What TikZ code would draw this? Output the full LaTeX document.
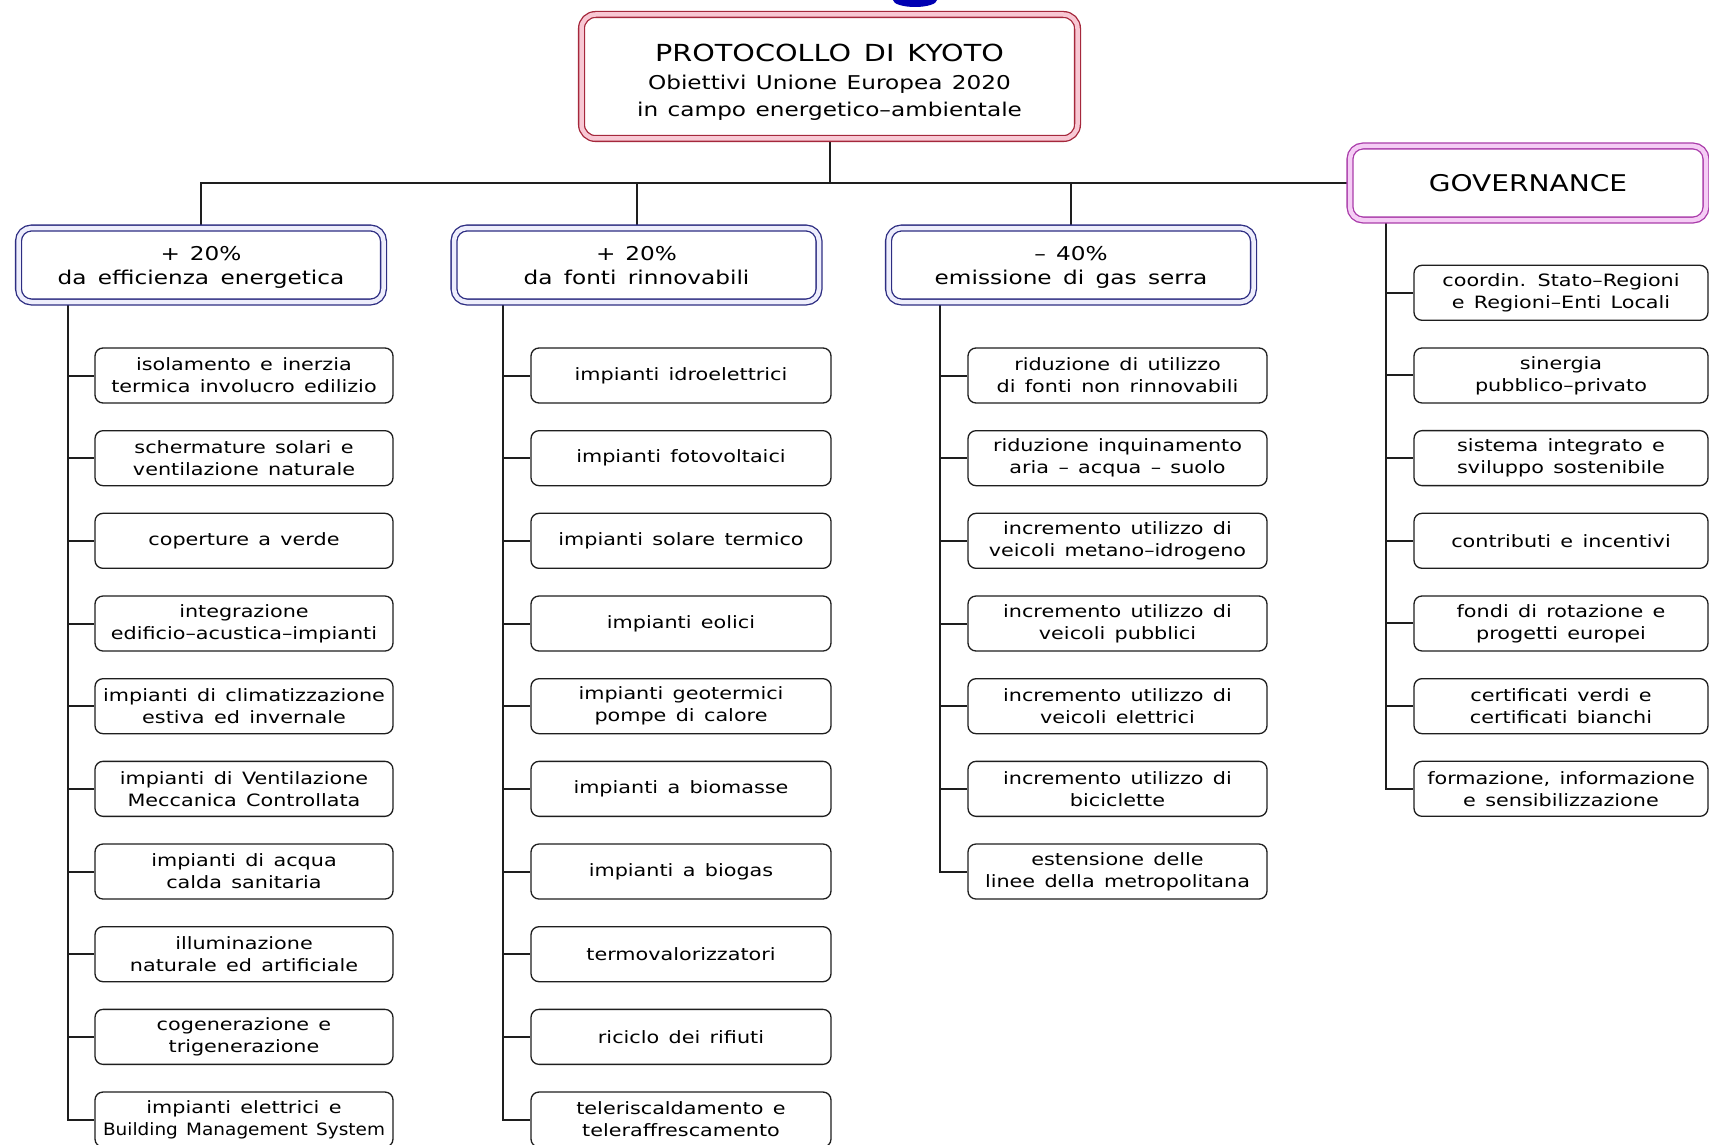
\documentclass[tikz,border=0pt]{standalone}
\usepackage{fontspec}
\setmainfont{DejaVu Sans}[FakeStretch=1.22]
\newcommand\leaffont{\fontsize{17}{22}\selectfont\spaceskip=0.55em\relax}
\newcommand\hdrfont{\fontsize{19}{24}\selectfont\spaceskip=0.6em\relax}
\newcommand\topfont{\fontsize{19}{27}\selectfont\spaceskip=0.5em\relax}
\newcommand\titlefont{\fontsize{23.5}{27}\selectfont\spaceskip=0.55em\relax}
\definecolor{topline}{RGB}{165,40,60}
\definecolor{toppink}{RGB}{248,200,212}
\definecolor{navyline}{RGB}{45,45,130}
\definecolor{lavfill}{RGB}{238,238,252}
\definecolor{purpline}{RGB}{170,60,170}
\definecolor{purpfill}{RGB}{245,205,245}
\definecolor{conncol}{RGB}{30,30,30}
\pgfdeclarelayer{bg}
\pgfsetlayers{bg,main}
\tikzset{
  leafbox/.style={draw=conncol, line width=1.3pt, rounded corners=8pt, fill=white,
    minimum height=55pt, inner sep=0pt, align=center, font=\leaffont},
  colA/.style={leafbox, minimum width=298pt},
  colB/.style={leafbox, minimum width=300pt},
  colC/.style={leafbox, minimum width=299pt},
  colD/.style={leafbox, minimum width=294pt},
  hdrbox/.style={draw=navyline, double=lavfill, double distance=4.5pt, line width=1.3pt,
    rounded corners=13pt, fill=white, minimum width=365pt, minimum height=74pt,
    inner sep=0pt, align=center, font=\hdrfont},
  govbox/.style={draw=purpline, double=purpfill, double distance=4.5pt, line width=1.3pt,
    rounded corners=13pt, fill=white, minimum width=356pt, minimum height=74pt,
    inner sep=0pt, align=center, font=\fontsize{23}{26}\selectfont},
  topbox/.style={draw=topline, double=toppink, double distance=4.5pt, line width=1.3pt,
    rounded corners=14pt, fill=white, minimum width=496pt, minimum height=124pt,
    inner sep=0pt, align=center, font=\topfont},
  conn/.style={draw=conncol, line width=2pt}
}
\begin{document}
\begin{tikzpicture}[x=1pt,y=-1pt]
\useasboundingbox (0,0) rectangle (1709,1145);
\begin{pgfonlayer}{bg}
\fill[white] (0,0) rectangle (1709,1145);
\end{pgfonlayer}
\fill[blue!70!black] (915,0) ellipse (22 and 7);

% top box
\node[topbox] (top) at (829.5,76.5) {\rule{0pt}{29pt}{\titlefont PROTOCOLLO DI KYOTO}\\[1pt]
  Obiettivi Unione Europea 2020\\
  in campo energetico–ambientale};

% header boxes
\node[hdrbox] (h1) at (201,265) {\rule{0pt}{19pt}+\hspace{10pt}20\%\\da efficienza energetica};
\node[hdrbox] (h2) at (636.5,265) {\rule{0pt}{19pt}+\hspace{10pt}20\%\\da fonti rinnovabili\vphantom{g}};
\node[hdrbox] (h3) at (1071,265) {\rule{0pt}{19pt}–\hspace{10pt}40\%\\emissione di gas serra};
\node[govbox] (gov) at (1528,183) {GOVERNANCE};

\coordinate (j0) at (830,183);
\coordinate (t1) at (68,302);
\coordinate (t2) at (503,302);
\coordinate (t3) at (940,302);
\coordinate (t4) at (1386,219);

\begin{pgfonlayer}{bg}
\draw[conn] (top.south -| j0) -- (j0);
\draw[conn] (h1.north) -- (h1.north |- j0) -- (gov.west);
\draw[conn] (h2.north |- j0) -- (h2.north);
\draw[conn] (h3.north |- j0) -- (h3.north);
\end{pgfonlayer}

% column A
\foreach \t [count=\i] in {
  {isolamento e inerzia\\termica involucro edilizio},
  {schermature solari e\\ventilazione naturale},
  {coperture a verde},
  {integrazione\\edificio–acustica–impianti},
  {impianti di climatizzazione\\estiva ed invernale},
  {impianti di Ventilazione\\Meccanica Controllata},
  {impianti di acqua\\calda sanitaria},
  {illuminazione\\naturale ed artificiale},
  {cogenerazione e\\trigenerazione},
  {impianti elettrici e\\\scalebox{0.89}[1]{Building Management System}}}{
  \node[colA] (a\i) at (244,{375.5+82.67*(\i-1)}) {\t};
  \begin{pgfonlayer}{bg}
  \draw[conn] (t1 |- a\i.west) -- (a\i.west);
  \end{pgfonlayer}
}
% column B
\foreach \t [count=\i] in {
  {impianti idroelettrici},
  {impianti fotovoltaici},
  {impianti solare termico},
  {impianti eolici},
  {impianti geotermici\\pompe di calore},
  {impianti a biomasse},
  {impianti a biogas},
  {termovalorizzatori},
  {riciclo dei rifiuti},
  {teleriscaldamento e\\teleraffrescamento}}{
  \node[colB] (b\i) at (681,{375.5+82.67*(\i-1)}) {\t};
  \begin{pgfonlayer}{bg}
  \draw[conn] (t2 |- b\i.west) -- (b\i.west);
  \end{pgfonlayer}
}
% column C
\foreach \t [count=\i] in {
  {riduzione di utilizzo\\di fonti non rinnovabili},
  {riduzione inquinamento\\aria – acqua – suolo},
  {incremento utilizzo di\\veicoli metano–idrogeno},
  {incremento utilizzo di\\veicoli pubblici},
  {incremento utilizzo di\\veicoli elettrici},
  {incremento utilizzo di\\biciclette},
  {estensione delle\\linee della metropolitana}}{
  \node[colC] (c\i) at (1117.5,{375.5+82.67*(\i-1)}) {\t};
  \begin{pgfonlayer}{bg}
  \draw[conn] (t3 |- c\i.west) -- (c\i.west);
  \end{pgfonlayer}
}
% column D
\foreach \t [count=\i] in {
  {coordin. Stato–Regioni\\e Regioni–Enti Locali},
  {sinergia\\pubblico–privato},
  {sistema integrato e\\sviluppo sostenibile},
  {contributi e incentivi},
  {fondi di rotazione e\\progetti europei},
  {certificati verdi e\\certificati bianchi},
  {formazione, informazione\\e sensibilizzazione}}{
  \node[colD] (d\i) at (1561,{292.8+82.67*(\i-1)}) {\t};
  \begin{pgfonlayer}{bg}
  \draw[conn] (t4 |- d\i.west) -- (d\i.west);
  \end{pgfonlayer}
}

\begin{pgfonlayer}{bg}
\draw[conn] (h1.south -| t1) |- (a10.west);
\draw[conn] (h2.south -| t2) |- (b10.west);
\draw[conn] (h3.south -| t3) |- (c7.west);
\draw[conn] (gov.south -| t4) |- (d7.west);
\end{pgfonlayer}
\end{tikzpicture}
\end{document}
